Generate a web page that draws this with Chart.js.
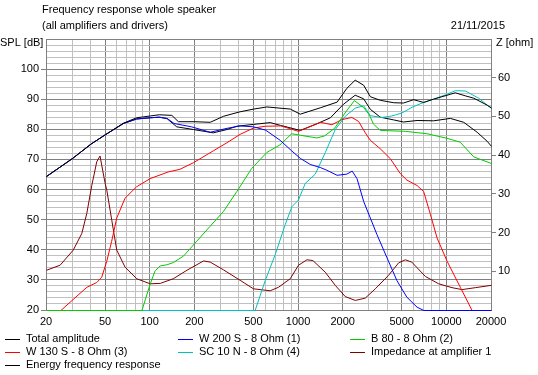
<!DOCTYPE html>
<html>
<head>
<meta charset="utf-8">
<title>Frequency response whole speaker</title>
<script src="https://cdn.jsdelivr.net/npm/chart.js@4.4.0/dist/chart.umd.min.js"></script>
<style>
  html, body { margin: 0; padding: 0; background: #fff; }
  #wrap { width: 538px; height: 375px; }
</style>
</head>
<body>
<div id="wrap"><canvas id="chart" width="538" height="375"></canvas></div>
<script>
// values (Hz, dB / ohm)
const totalFreq = [20, 30, 40, 50, 66, 81, 100, 115, 140, 155, 200, 254, 312, 404, 500, 612, 750, 880, 1027, 1400, 1820, 2120, 2410, 2750, 3050, 3560, 4380, 5100, 5970, 6980, 8150, 10560, 11400, 13300, 15200, 18700, 20000];
const totalDb = [64.5, 70.5, 75.3, 78.4, 82.2, 84.0, 84.6, 85.0, 84.8, 82.7, 82.7, 82.5, 84.5, 86.0, 86.9, 87.6, 87.2, 86.9, 85.2, 87.3, 89.2, 93.8, 96.5, 94.8, 91.0, 89.8, 89.0, 88.9, 90.0, 89.1, 90.2, 91.8, 92.3, 91.3, 90.5, 88.2, 87.2];

const energyFreq = [20, 30, 40, 50, 66, 81, 100, 115, 130, 151, 196, 266, 329, 384, 497, 644, 753, 1027, 1331, 1640, 2010, 2410, 2750, 3050, 3560, 4380, 5100, 6300, 8150, 10560, 13000, 16000, 18700, 20000];
const energyDb = [64.5, 70.5, 75.3, 78.4, 82.1, 83.6, 84.0, 84.2, 83.7, 81.0, 80.1, 79.0, 80.1, 81.2, 81.8, 82.4, 81.5, 79.8, 82.0, 84.0, 88.5, 91.5, 90.3, 86.8, 84.2, 83.3, 82.6, 83.1, 83.0, 83.8, 82.5, 79.2, 76.2, 74.5];

const w200Freq = [20, 30, 40, 50, 66, 81, 100, 115, 130, 145, 190, 254, 330, 404, 497, 600, 753, 900, 1030, 1200, 1400, 1550, 1820, 2120, 2300, 2480, 2750, 3050, 3380, 3950, 4610, 5380, 6300, 7000, 20000];
const w200Db = [64.5, 70.5, 75.3, 78.4, 82.1, 83.6, 84.0, 84.2, 83.8, 82.1, 81.0, 79.2, 80.5, 81.3, 81.0, 79.9, 76.5, 73.0, 70.5, 68.5, 67.5, 66.6, 64.9, 65.3, 66.3, 63.8, 56.2, 50.7, 45.2, 37.5, 29.9, 24.4, 21.1, 20, 20];

const b80Freq = [20, 88, 100, 108, 117, 130, 143, 168, 206, 254, 312, 384, 482, 612, 750, 900, 1030, 1330, 1500, 1750, 2100, 2380, 2750, 3000, 3200, 3560, 5250, 7350, 10000, 12300, 15200, 20000];
const b80Db = [20, 20, 28.8, 33.2, 34.8, 35.2, 35.9, 38.1, 43.0, 48.0, 52.9, 59.5, 67.1, 72.5, 75.0, 78.7, 78.2, 77.3, 78.0, 80.5, 86.2, 89.7, 87.4, 85.0, 81.9, 79.8, 79.5, 78.7, 77.2, 75.9, 71.0, 68.8];

const w130Freq = [25, 37.4, 43.6, 47.1, 51, 55, 59.5, 67.7, 81, 100, 132, 159, 196, 266, 329, 404, 497, 600, 760, 1000, 1160, 1400, 1680, 1960, 2290, 2540, 2820, 3050, 3560, 4160, 4850, 5380, 6300, 6980, 7740, 8590, 10030, 12330, 14800];
const w130Db = [20, 27.7, 29.3, 31.0, 36.4, 43.0, 50.7, 57.3, 61.1, 63.8, 66.0, 66.9, 69.1, 73.0, 75.7, 78.5, 80.6, 81.2, 81.3, 79.5, 80.8, 82.5, 81.7, 83.4, 84.1, 82.8, 79.0, 76.5, 73.7, 70.4, 65.5, 63.3, 61.5, 59.5, 52.0, 44.1, 36.4, 27.7, 20];

const sc10Freq = [20, 510, 596, 697, 813, 903, 1000, 1110, 1297, 1514, 1769, 2066, 2413, 2750, 3050, 3654, 4266, 4984, 5826, 6807, 7947, 9771, 11415, 13334, 16399, 19150, 20000];
const sc10Db = [20, 20, 29.9, 38.6, 48.5, 54.5, 56.7, 62.2, 65.3, 72.4, 80.1, 84.5, 87.2, 88.0, 84.7, 84.1, 84.6, 85.6, 87.5, 88.9, 90.0, 91.6, 93.0, 92.9, 90.5, 87.8, 87.4];

const impFreq = [20, 24.7, 30.3, 34.6, 37.4, 40.4, 42.5, 43.6, 45.9, 49.6, 51, 55.1, 59.5, 67.7, 81.2, 100, 117, 143, 177, 229, 254, 312, 404, 497, 644, 733, 879, 1000, 1140, 1250, 1514, 1769, 2066, 2413, 2819, 3293, 4049, 4729, 5248, 5800, 7162, 8806, 10838, 12662, 15564, 20000];
const impOhm = [10.4, 11.7, 15.6, 19.9, 25.1, 32.3, 36.3, 38.4, 39.9, 33.0, 31.1, 23.3, 15.6, 11.2, 8.2, 6.9, 7.0, 8.2, 10.4, 12.8, 12.5, 10.5, 7.8, 5.6, 5.1, 6.0, 8.2, 11.7, 13.1, 12.9, 9.9, 6.5, 3.6, 2.6, 3.2, 5.6, 9.1, 12.3, 13.1, 12.5, 8.8, 6.9, 5.9, 5.4, 5.9, 6.5];

// axis ticks
const xLabels = [20, 50, 100, 200, 500, 1000, 2000, 5000, 10000, 20000];
const xGrid = [];
for (let d = 10; d <= 10000; d *= 10) {
  for (let m = 1; m <= 9; m++) {
    const v = m * d;
    if (v >= 20 && v <= 20000) xGrid.push(v);
  }
}

const titleLines = ['Frequency response whole speaker', '(all amplifiers and drivers)'];
const dateText = '21/11/2015';

const FONT = '11px "Liberation Sans", Arial, sans-serif';
Chart.defaults.font.family = '"Liberation Sans", Arial, sans-serif';
Chart.defaults.font.size = 11;
Chart.defaults.color = '#000';

function pts(f, v) {
  return f.map((x, i) => ({ x: x, y: v[i] }));
}

function line(label, f, v, color, axis) {
  return {
    label: label,
    data: pts(f, v),
    borderColor: color,
    backgroundColor: color,
    borderWidth: 1,
    pointRadius: 0,
    tension: 0,
    fill: false,
    clip: 2,
    yAxisID: axis
  };
}

const datasets = [
  line('Total amplitude', totalFreq, totalDb, '#000000', 'y'),
  line('W 200 S - 8 Ohm (1)', w200Freq, w200Db, '#0000ff', 'y'),
  line('B 80 - 8 Ohm (2)', b80Freq, b80Db, '#00cc00', 'y'),
  line('W 130 S - 8 Ohm (3)', w130Freq, w130Db, '#ff0000', 'y'),
  line('SC 10 N - 8 Ohm (4)', sc10Freq, sc10Db, '#00c0c0', 'y'),
  line('Impedance at amplifier 1', impFreq, impOhm, '#800000', 'y2'),
  line('Energy frequency response', energyFreq, energyDb, '#000000', 'y')
];

// legend grid: column x, row y
const legendCols = [5, 178, 350];
const legendRows = [339, 352, 365];

// shift curves half a pixel so flat parts sit crisp on the grid rows
const crispPlugin = {
  id: 'crisp',
  beforeDatasetsDraw(chart) {
    chart.ctx.save();
    chart.ctx.translate(0.5, 0.5);
  },
  afterDatasetsDraw(chart) {
    chart.ctx.restore();
  }
};

const textPlugin = {
  id: 'texts',
  afterDraw(chart) {
    const ctx = chart.ctx;
    ctx.save();
    ctx.font = FONT;
    ctx.fillStyle = '#000';
    ctx.textBaseline = 'middle';
    ctx.textAlign = 'left';
    ctx.fillText(titleLines[0], 42, 10);
    ctx.fillText(titleLines[1], 42, 26);
    ctx.fillText('SPL [dB]', 0, 43);
    ctx.fillText('Z [ohm]', 496, 43);
    ctx.textAlign = 'right';
    ctx.fillText(dateText, 505, 26);

    ctx.textAlign = 'left';
    chart.data.datasets.forEach((ds, i) => {
      const x = legendCols[i % 3];
      const y = legendRows[Math.floor(i / 3)];
      ctx.strokeStyle = ds.borderColor;
      ctx.lineWidth = 1;
      ctx.beginPath();
      ctx.moveTo(x, y + 0.5);
      ctx.lineTo(x + 15, y + 0.5);
      ctx.stroke();
      ctx.fillText(ds.label, x + 21, y);
    });
    ctx.restore();
  }
};

new Chart(document.getElementById('chart'), {
  type: 'line',
  data: { datasets: datasets },
  options: {
    responsive: false,
    animation: false,
    layout: { padding: { top: 39, left: 0, right: 0, bottom: 0 } },
    plugins: { legend: { display: false }, tooltip: { enabled: false } },
    scales: {
      x: {
        type: 'logarithmic',
        min: 20,
        max: 20000,
        afterBuildTicks: s => { s.ticks = xGrid.map(v => ({ value: v })); },
        afterFit: s => { s.height = 65; },
        ticks: {
          autoSkip: false,
          maxRotation: 0,
          padding: 5,
          callback: v => xLabels.includes(v) ? String(v) : ''
        },
        grid: {
          color: c => xLabels.includes(c.tick.value) ? '#808080' : '#c0c0c0',
          drawTicks: false
        },
        border: { color: '#808080' }
      },
      y: {
        position: 'left',
        min: 20,
        max: 110,
        afterFit: s => { s.width = 46; },
        ticks: {
          stepSize: 2,
          autoSkip: false,
          padding: 2,
          callback: v => (v % 10 === 0 && v <= 100) ? String(v) : ''
        },
        grid: {
          color: c => c.tick.value % 10 === 0 ? '#808080' : '#c0c0c0',
          tickColor: c => (c.tick.value % 10 === 0 && c.tick.value < 110) ? '#808080' : 'rgba(0,0,0,0)',
          tickLength: 5
        },
        border: { color: '#808080' }
      },
      y2: {
        position: 'right',
        min: 0,
        max: 70,
        afterFit: s => { s.width = 47; },
        ticks: {
          stepSize: 10,
          autoSkip: false,
          padding: 2,
          callback: v => (v > 0 && v < 70) ? String(v) : ''
        },
        grid: {
          drawOnChartArea: false,
          tickLength: 5,
          tickColor: c => (c.tick.value > 0 && c.tick.value < 70) ? '#808080' : 'rgba(0,0,0,0)'
        },
        border: { color: '#808080' }
      }
    }
  },
  plugins: [crispPlugin, textPlugin]
});
</script>
</body>
</html>
